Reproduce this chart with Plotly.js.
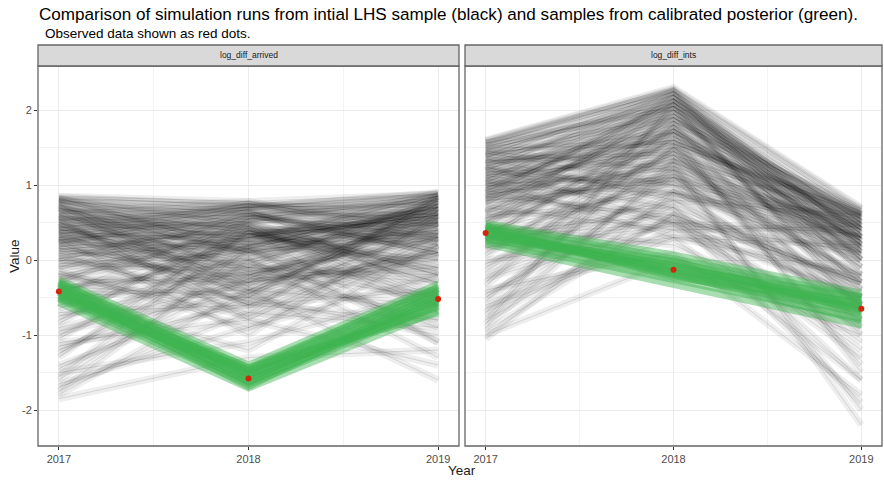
<!DOCTYPE html>
<html>
<head>
<meta charset="utf-8">
<script src="https://cdn.plot.ly/plotly-3.0.1.min.js"></script>
<style>html,body{margin:0;padding:0;background:#fff;}#chart{width:884px;height:480px;}</style>
</head>
<body>
<div id="chart"></div>
<script>
// ---- data ----
const years = [2017, 2018, 2019];
const panelNames = ["log_diff_arrived", "log_diff_ints"];
const yTickVals = [-2, -1, 0, 1, 2];
const yTickText = ["-2", "-1", "0", "1", "2"];

// initial LHS sample runs: [2017, 2018, 2019]
const arrivedRuns = [
  [0.85,0.78,0.88],[0.84,0.72,0.82],[0.83,0.1,0.3],[0.82,0.75,0.6],[0.81,0.45,-0.1],
  [0.8,0.5,0.85],[0.79,0.62,0.78],[0.78,0.2,0.7],[0.77,0.7,0.9],[0.76,0.35,0.5],
  [0.75,-0.2,0.4],[0.74,-0.4,0.6],[0.72,0.65,0.1],[0.71,0.05,0.72],[0.7,-0.5,0.8],
  [0.69,0.25,0.85],[0.68,0.4,-0.3],[0.66,0.58,0.66],[0.65,0.1,0.55],[0.64,0.78,0.35],
  [0.62,0.7,0.75],[0.61,-0.3,0.7],[0.6,-0.1,-0.2],[0.59,0.42,0.3],[0.58,0.3,0.9],
  [0.57,0.15,-0.5],[0.55,-0.8,0.3],[0.54,0.7,0.88],[0.53,0.66,0.52],[0.52,0.6,0.2],
  [0.51,-0.6,0.1],[0.5,0.0,0.65],[0.48,0.45,-0.6],[0.47,0.35,0.7],[0.46,-0.25,0.82],
  [0.45,-0.35,0.5],[0.44,0.62,0.05],[0.42,0.75,0.45],[0.41,-0.1,0.45],[0.4,0.2,0.0],
  [0.39,0.52,0.62],[0.38,-0.6,-0.4],[0.37,0.28,0.85],[0.35,0.55,0.8],[0.34,0.75,0.25],
  [0.33,0.12,0.4],[0.32,-0.15,0.25],[0.31,-0.45,0.75],[0.3,0.35,-0.1],[0.28,-1.0,0.6],
  [0.27,0.48,-0.2],[0.26,0.72,0.7],[0.25,0.15,0.7],[0.24,0.0,0.45],[0.22,0.68,-0.45],
  [0.21,0.58,0.88],[0.2,-0.4,0.1],[0.18,0.38,0.55],[0.16,-0.3,0.65],[0.15,0.25,0.35],
  [0.13,0.42,-0.3],[0.12,-0.05,0.78],[0.1,-0.7,0.85],[0.08,0.18,0.78],[0.05,0.5,0.15],
  [0.03,-0.55,0.2],[0.02,0.3,0.6],[0.0,-0.2,-0.8],[-0.02,0.68,0.55],[-0.05,0.1,0.5],
  [-0.08,-0.1,0.85],[-0.1,0.6,0.3],[-0.12,0.35,-0.15],[-0.15,-0.9,-0.2],[-0.18,-0.75,0.35],
  [-0.2,0.3,0.6],[-0.22,0.15,0.7],[-0.25,-0.3,0.0],[-0.28,0.62,0.1],[-0.3,0.45,-0.5],
  [-0.33,-0.2,0.55],[-0.35,-0.5,0.4],[-0.4,0.0,-0.9],[-0.42,0.25,0.25],[-0.45,0.55,0.45],
  [-0.48,-0.4,-0.6],[-0.5,-1.2,0.2],[-0.55,0.2,0.75],[-0.6,-0.1,-0.3],[-0.65,0.3,0.6],
  [-0.7,-0.6,0.5],[-0.75,-0.15,-0.5],[-0.8,0.4,-1.1],[-0.85,0.55,0.35],[-0.9,-0.3,0.1],
  [-0.95,-0.45,0.65],[-1.0,0.1,-0.6],[-1.05,0.35,0.0],[-1.1,-0.8,-1.4],[-1.15,-0.6,-0.8],
  [-1.2,-0.2,0.3],[-1.25,0.2,0.5],[-1.3,0.5,-0.2],[-1.4,-0.5,-1.0],[-1.45,-0.25,-0.1],
  [-1.5,-1.1,-0.4],[-1.55,0.4,-0.7],[-1.6,0.0,-1.3],[-1.65,-0.9,0.2],[-1.7,-0.7,-0.9],
  [-1.75,0.15,-1.1],[-1.8,-0.4,-1.6],[-1.85,-1.3,-1.2]
];
const intsRuns = [
  [1.6,2.3,0.7],[1.59,2.28,0.68],[1.58,2.25,0.62],[1.56,2.0,0.58],[1.55,2.2,0.5],
  [1.53,2.27,0.3],[1.52,2.05,0.4],[1.5,1.9,0.65],[1.49,1.55,0.6],[1.47,2.1,0.2],
  [1.46,2.15,0.45],[1.45,1.2,0.3],[1.43,1.0,0.1],[1.42,1.7,0.55],[1.4,2.25,-0.2],
  [1.39,1.85,0.68],[1.37,1.95,0.05],[1.36,2.2,0.0],[1.35,0.8,0.6],[1.33,1.4,-0.4],
  [1.32,1.45,0.45],[1.3,1.6,0.1],[1.29,2.05,0.55],[1.27,2.15,0.35],[1.26,1.7,0.3],
  [1.25,0.5,-0.5],[1.23,0.9,0.45],[1.22,1.8,0.6],[1.2,2.0,0.4],[1.19,2.25,0.25],
  [1.17,1.3,-0.25],[1.16,1.6,0.62],[1.15,1.0,-0.8],[1.13,1.9,0.15],[1.12,1.65,0.25],
  [1.1,1.4,0.55],[1.09,0.7,-0.3],[1.07,2.2,0.15],[1.06,1.5,-0.1],[1.05,0.3,0.2],
  [1.03,2.1,0.5],[1.02,1.1,0.5],[1.0,1.8,-0.3],[0.99,1.2,0.2],[0.97,1.55,0.65],
  [0.96,1.95,0.4],[0.95,0.9,0.0],[0.93,0.5,0.35],[0.92,2.05,-0.6],[0.9,2.1,0.3],
  [0.89,1.7,0.1],[0.87,1.25,0.4],[0.86,1.35,0.55],[0.85,0.6,-1.2],[0.83,2.15,0.6],
  [0.82,1.75,0.2],[0.8,1.5,0.6],[0.79,1.05,-0.2],[0.77,1.9,-0.1],[0.75,1.1,-0.6],
  [0.74,1.85,0.45],[0.7,0.4,0.45],[0.68,1.15,-0.5],[0.65,1.7,-0.1],[0.63,2.0,0.2],
  [0.62,1.35,0.3],[0.6,0.7,-1.6],[0.57,0.9,0.3],[0.55,1.3,0.2],[0.52,1.6,0.5],
  [0.5,2.2,-0.4],[0.47,1.4,-0.6],[0.45,0.2,-0.9],[0.42,2.1,0.0],[0.4,1.0,0.5],
  [0.37,0.6,-0.3],[0.35,1.6,-1.4],[0.32,1.8,-0.9],[0.3,0.5,0.1],[0.27,1.1,0.15],
  [0.25,1.9,0.35],[0.2,0.8,-0.7],[0.17,0.45,-0.5],[0.15,1.45,-0.3],[0.1,1.2,-2.0],
  [0.05,1.75,0.25],[0.0,0.3,-0.2],[-0.05,0.9,-0.6],[-0.1,1.5,0.0],[-0.15,1.3,0.4],
  [-0.2,0.7,-1.1],[-0.25,0.5,-1.3],[-0.3,2.0,-0.5],[-0.35,1.8,0.0],[-0.4,0.1,-1.8],
  [-0.45,0.8,-0.4],[-0.5,1.1,0.3],[-0.55,1.5,-1.0],[-0.6,0.4,-0.8],[-0.65,0.3,-1.6],
  [-0.7,1.7,-1.5],[-0.75,1.2,-0.2],[-0.8,0.6,-0.3],[-0.85,2.1,-0.7],[-0.9,1.3,-2.2],
  [-0.95,0.6,-1.9],[-1.0,0.0,-1.0],[-1.05,0.9,0.1]
];
// calibrated posterior runs
const arrivedPosterior = [
  [-0.27,-1.41,-0.33],[-0.31,-1.45,-0.38],[-0.35,-1.49,-0.42],[-0.39,-1.53,-0.46],
  [-0.43,-1.57,-0.5],[-0.47,-1.61,-0.55],[-0.51,-1.65,-0.6],[-0.56,-1.7,-0.67],
  [-0.3,-1.52,-0.62],[-0.5,-1.47,-0.37],[-0.38,-1.68,-0.45],[-0.46,-1.44,-0.7],
  [-0.42,-1.56,-0.52],[-0.34,-1.62,-0.57]
];
const intsPosterior = [
  [0.48,0.06,-0.45],[0.45,0.01,-0.5],[0.42,-0.04,-0.55],[0.38,-0.09,-0.6],
  [0.34,-0.14,-0.65],[0.3,-0.2,-0.7],[0.26,-0.26,-0.77],[0.22,-0.31,-0.86],
  [0.44,-0.22,-0.58],[0.28,-0.02,-0.68],[0.36,-0.12,-0.5],[0.4,-0.18,-0.8],
  [0.33,-0.08,-0.62],[0.38,-0.16,-0.66]
];
// observed data
const arrivedObserved = [-0.42, -1.58, -0.52];
const intsObserved = [0.36, -0.13, -0.65];

// ---- build traces ----
const traces = [];
function addRuns(runs, xa, ya, color, width) {
  runs.forEach(r => traces.push({
    x: years, y: r, type: "scatter", mode: "lines", xaxis: xa, yaxis: ya,
    line: {color: color, width: width}, hoverinfo: "skip", showlegend: false
  }));
}
// soft haze + fine strokes so the many runs read as a grey mass
addRuns(arrivedRuns, "x", "y", "rgba(0,0,0,0.065)", 7);
addRuns(intsRuns, "x2", "y2", "rgba(0,0,0,0.065)", 7);
addRuns(arrivedRuns, "x", "y", "rgba(0,0,0,0.11)", 1);
addRuns(intsRuns, "x2", "y2", "rgba(0,0,0,0.11)", 1);
addRuns(arrivedPosterior, "x", "y", "rgba(62,180,80,0.45)", 8);
addRuns(intsPosterior, "x2", "y2", "rgba(62,180,80,0.45)", 8);
traces.push({x: years, y: arrivedObserved, type: "scatter", mode: "markers", xaxis: "x", yaxis: "y",
  marker: {color: "#d4260b", size: 6}, showlegend: false});
traces.push({x: years, y: intsObserved, type: "scatter", mode: "markers", xaxis: "x2", yaxis: "y2",
  marker: {color: "#d4260b", size: 6}, showlegend: false});

// ---- layout ----
const W = 884, H = 480, mL = 38, mR = 2, mT = 66, mB = 34;
const pw = W - mL - mR, ph = H - mT - mB;
const d1 = [0, (459 - mL) / pw];
const d2 = [(465 - mL) / pw, 1];
const stripH = 21 / ph;
const FONT = "Liberation Sans, Arial, sans-serif";

const xBase = {
  range: [2016.89, 2019.11], tickvals: years, ticktext: years.map(String),
  showgrid: true, gridcolor: "#ebebeb", gridwidth: 1, zeroline: false,
  ticks: "outside", ticklen: 3, tickcolor: "#333", tickwidth: 1,
  tickfont: {family: FONT, size: 11, color: "#4d4d4d"},
  minor: {tickvals: [2017.5, 2018.5], showgrid: true, gridcolor: "#f3f3f3", gridwidth: 1, ticks: ""},
  showline: false, fixedrange: true
};
const yBase = {
  range: [-2.48, 2.587], tickvals: yTickVals, ticktext: yTickText,
  showgrid: true, gridcolor: "#ebebeb", gridwidth: 1, zeroline: false,
  ticks: "outside", ticklen: 3, tickcolor: "#333", tickwidth: 1,
  tickfont: {family: FONT, size: 11, color: "#4d4d4d"},
  minor: {tickvals: [-1.5, -0.5, 0.5, 1.5], showgrid: true, gridcolor: "#f3f3f3", gridwidth: 1, ticks: ""},
  showline: false, fixedrange: true
};

const shapes = [];
const annotations = [];
[d1, d2].forEach((d, i) => {
  shapes.push({type: "rect", xref: "paper", yref: "paper", x0: d[0], x1: d[1], y0: 0, y1: 1,
    line: {color: "#666", width: 1.3}, fillcolor: "rgba(0,0,0,0)", layer: "above"});
  shapes.push({type: "rect", xref: "paper", yref: "paper", x0: d[0], x1: d[1], y0: 1, y1: 1 + stripH,
    line: {color: "#666", width: 1.3}, fillcolor: "#d9d9d9", layer: "above"});
  annotations.push({xref: "paper", yref: "paper", x: (d[0] + d[1]) / 2, y: 1 + stripH / 2,
    text: panelNames[i], showarrow: false, xanchor: "center", yanchor: "middle",
    font: {family: FONT, size: 8.5, color: "#1a1a1a"}});
});
annotations.push({xref: "paper", yref: "paper", x: -1 / pw, y: 1 + 52 / ph, xanchor: "left", yanchor: "middle",
  text: "Comparison of simulation runs from intial LHS sample (black) and samples from calibrated posterior (green).",
  showarrow: false, font: {family: FONT, size: 17.1, color: "#000"}});
annotations.push({xref: "paper", yref: "paper", x: 5 / pw, y: 1 + 32 / ph, xanchor: "left", yanchor: "middle",
  text: "Observed data shown as red dots.",
  showarrow: false, font: {family: FONT, size: 13.5, color: "#000"}});
annotations.push({xref: "paper", yref: "paper", x: (462 - mL) / pw, y: -24 / ph, xanchor: "center", yanchor: "middle",
  text: "Year", showarrow: false, font: {family: FONT, size: 13.5, color: "#1a1a1a"}});
annotations.push({xref: "paper", yref: "paper", x: -24 / pw, y: 0.5, xanchor: "center", yanchor: "middle",
  text: "Value", textangle: -90, showarrow: false,
  font: {family: FONT, size: 13.5, color: "#1a1a1a"}});

const layout = {
  width: W, height: H, margin: {l: mL, r: mR, t: mT, b: mB},
  paper_bgcolor: "#fff", plot_bgcolor: "#fff", showlegend: false,
  xaxis: Object.assign({}, xBase, {domain: d1, anchor: "y"}),
  xaxis2: Object.assign({}, xBase, {domain: d2, anchor: "y2"}),
  yaxis: Object.assign({}, yBase, {domain: [0, 1], anchor: "x"}),
  yaxis2: Object.assign({}, yBase, {domain: [0, 1], anchor: "x2", matches: "y", showticklabels: false, ticks: ""}),
  shapes: shapes, annotations: annotations
};

Plotly.newPlot("chart", traces, layout, {staticPlot: true, displayModeBar: false});
</script>
</body>
</html>
